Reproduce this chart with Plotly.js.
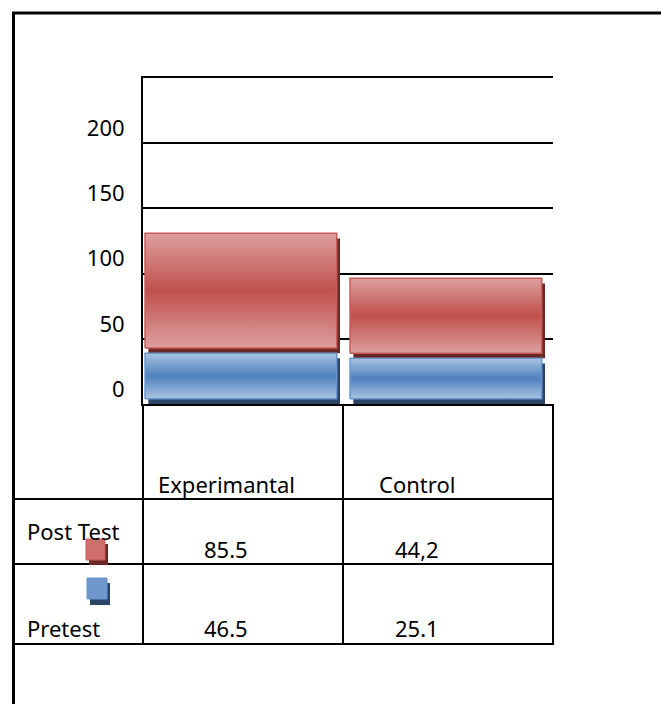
<!DOCTYPE html>
<html><head><meta charset="utf-8">
<script src="https://cdn.plot.ly/plotly-3.0.1.min.js"></script>
<style>html,body{margin:0;padding:0;background:#fff}#chart{width:661px;height:704px}</style>
</head><body><div id="chart"></div>
<script>
const categories = ['Experimantal', 'Control'];
const seriesNames = ['Pretest', 'Post Test'];
const pretest = [39, 35];
const posttest = [92, 61.5];
const tablePost = ['85.5', '44,2'];
const tablePre = ['46.5', '25.1'];
const yTickVals = [0, 50, 100, 150, 200];
const yTickText = ['0', '50', '100', '150', '200'];

const W = 661, H = 704;
const px = x => x / W;
const py = y => 1 - y / H;
const FONT = '"Noto Sans", "Open Sans", sans-serif';

const BAR_LEFT = 0.49, BAR_RIGHT = 0.445;
const LIFT = 4;
const SHADOW_DX = 0.016;

const styles = {
  pre:  {light: '#a9c3e2', mid: '#4f81bd', line: '#6a95cb', shadow: '#2a4466'},
  post: {light: '#dda09e', mid: '#c0504d', line: '#c55a57', shadow: '#6a2826'}
};

function rect(x0, x1, y0, y1) { return {x: [x0, x1, x1, x0, x0], y: [y0, y0, y1, y1, y0]}; }

const shadowTraces = [], faceTraces = [];
categories.forEach((cat, i) => {
  const segs = [
    {key: 'pre', name: seriesNames[0], base: 0, top: pretest[i]},
    {key: 'post', name: seriesNames[1], base: pretest[i], top: pretest[i] + posttest[i]}
  ];
  segs.forEach(s => {
    const st = styles[s.key];
    const sh = rect(i - BAR_LEFT + SHADOW_DX, i + BAR_RIGHT + SHADOW_DX, s.base, s.top - LIFT);
    shadowTraces.push({type: 'scatter', mode: 'lines', x: sh.x, y: sh.y, fill: 'toself',
      fillcolor: st.shadow, line: {width: 0, color: st.shadow}, hoverinfo: 'skip', showlegend: false});
    const fc = rect(i - BAR_LEFT, i + BAR_RIGHT, s.base + LIFT, s.top);
    faceTraces.push({type: 'scatter', mode: 'lines', name: s.name + ' – ' + cat, x: fc.x, y: fc.y, fill: 'toself',
      fillcolor: st.mid,
      fillgradient: {type: 'vertical', colorscale: [[0, st.light], [0.5, st.mid], [1, st.light]]},
      line: {width: 1.5, color: st.line}, showlegend: false});
  });
});

const lineShape = (x0, y0, x1, y1, w) => ({type: 'line', xref: 'paper', yref: 'paper',
  x0: px(x0), y0: py(y0), x1: px(x1), y1: py(y1), line: {color: '#000', width: w || 2}});
const boxShape = (x0, y0, x1, y1, fill, lc) => ({type: 'rect', xref: 'paper', yref: 'paper',
  x0: px(x0), y0: py(y0), x1: px(x1), y1: py(y1), fillcolor: fill, line: {color: lc || fill, width: lc ? 1 : 0}});

const shapes = [
  lineShape(13.5, 12, 13.5, 704, 3),
  lineShape(12, 13, 661, 13, 3),
  lineShape(143, 404, 143, 645),
  lineShape(343, 404, 343, 645),
  lineShape(553, 404, 553, 645),
  lineShape(13, 499, 554, 499),
  lineShape(13, 564, 554, 564),
  lineShape(13, 644, 554, 644),
  // legend keys
  boxShape(89, 544, 108, 565, styles.post.shadow),
  boxShape(86, 539, 105, 560, '#cf6f6c', styles.post.line),
  boxShape(90, 583, 110, 605, styles.pre.shadow),
  boxShape(87, 578, 107, 599, '#6e98cb', styles.pre.line)
];

const textFont = {family: FONT, size: 22, color: '#000'};
const ann = (x, y, text, xanchor) => ({xref: 'paper', yref: 'paper', x: px(x), y: py(y), text: text,
  showarrow: false, xanchor: xanchor || 'center', yanchor: 'middle', font: textFont});

const colX = [226, 417];
const annotations = [];
categories.forEach((c, i) => annotations.push(ann(colX[i], 484, c)));
tablePost.forEach((t, i) => annotations.push(ann(colX[i], 549, t)));
tablePre.forEach((t, i) => annotations.push(ann(colX[i], 628, t)));
annotations.push(ann(25, 531, seriesNames[1], 'left'));
annotations.push(ann(25, 628, seriesNames[0], 'left'));

const layout = {
  width: W, height: H, margin: {l: 0, r: 0, t: 0, b: 0},
  paper_bgcolor: '#fff', plot_bgcolor: 'rgba(0,0,0,0)', showlegend: false,
  font: {family: FONT, color: '#000'},
  xaxis: {domain: [px(143), px(553)], range: [-0.5, 1.5], showgrid: false, zeroline: false,
    showticklabels: false, ticks: '', showline: true, mirror: true, linecolor: '#000', linewidth: 2, fixedrange: true},
  yaxis: {domain: [py(404), py(78)], range: [0, 250], tickvals: yTickVals, ticktext: yTickText,
    showgrid: true, gridcolor: '#000', gridwidth: 2, zeroline: false, showline: true,
    linecolor: '#000', linewidth: 2, ticks: '', tickfont: {family: FONT, size: 22, color: '#000'},
    ticklabelshift: -15, ticklabelstandoff: 12, fixedrange: true},
  shapes: shapes,
  annotations: annotations
};

Plotly.newPlot('chart', shadowTraces.concat(faceTraces), layout, {displayModeBar: false, staticPlot: true});
</script>
</body></html>
